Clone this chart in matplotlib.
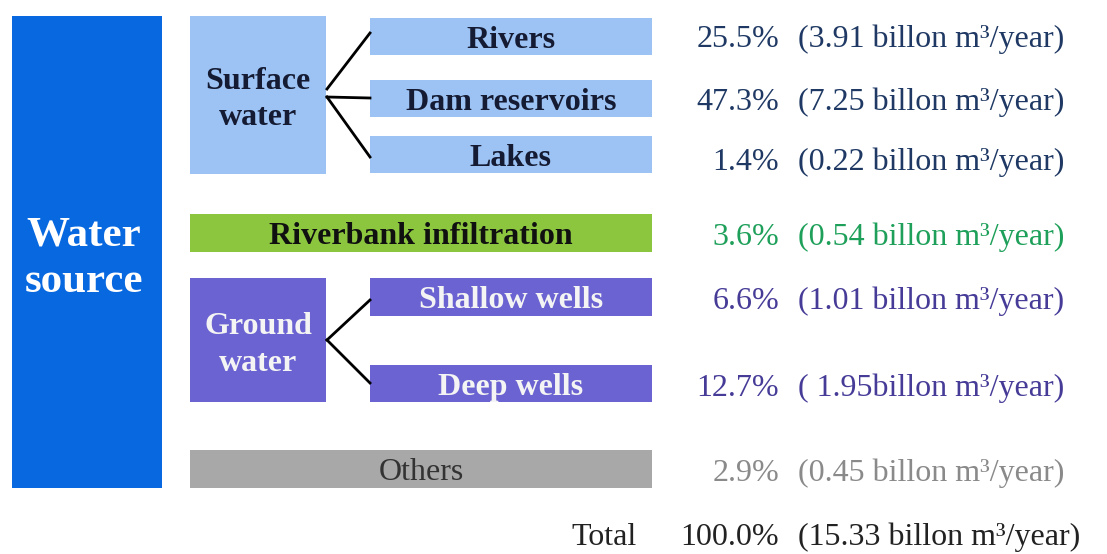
import matplotlib.pyplot as plt
from matplotlib.patches import Rectangle

# datos del diagrama
categories = ['Rivers', 'Dam reservoirs', 'Lakes', 'Riverbank infiltration',
              'Shallow wells', 'Deep wells', 'Others']
shares = [25.5, 47.3, 1.4, 3.6, 6.6, 12.7, 2.9]
volumes = [3.91, 7.25, 0.22, 0.54, 1.01, 1.95, 0.45]
total_share = 100.0
total_volume = 15.33

# formato del texto de volumen (la fila de pozos profundos viene así en el original)
vol_fmt = ['({:.2f} billon m³/year)'] * 5 + ['( {:.2f}billon m³/year)', '({:.2f} billon m³/year)']

# cajas: (x0, y0, x1, y1) en pixeles
box_pos = [(370, 18, 652, 55), (370, 80, 652, 117), (370, 136, 652, 173),
           (190, 214, 652, 252), (370, 278, 652, 316), (370, 365, 652, 402),
           (190, 450, 652, 488)]
# linea base del texto de valores
text_base = [47, 110, 170, 245, 309, 396, 481]

c_blue = '#0868E0'
c_light = '#9DC3F4'
c_green = '#8CC63F'
c_purple = '#6B63D1'
c_gray = '#A8A8A8'
box_colors = [c_light, c_light, c_light, c_green, c_purple, c_purple, c_gray]
label_colors = ['#141B33', '#141B33', '#141B33', '#101010', '#F4F4F4', '#F4F4F4', '#333333']
label_weights = ['bold'] * 6 + ['normal']
value_colors = ['#1F3964', '#1F3964', '#1F3964', '#1EA05A', '#463C98', '#463C98', '#8A8A8A']

plt.rcParams['font.family'] = ['Liberation Serif', 'DejaVu Serif']

FS = 23

fig = plt.figure(figsize=(11.07, 5.54), dpi=100)
ax = fig.add_axes([0, 0, 1, 1])
ax.set_xlim(0, 1107)
ax.set_ylim(554, 0)
ax.axis('off')


def box(x0, y0, x1, y1, color):
    ax.add_patch(Rectangle((x0, y0), x1 - x0, y1 - y0, facecolor=color, edgecolor='none'))


def txt(x, y, s, **kw):
    ax.text(x, y, s, va='baseline', **kw)


# caja principal
box(12, 16, 162, 488, c_blue)
txt(84, 245, 'Water', color='white', fontsize=31, fontweight='bold', ha='center')
txt(84, 292, 'source', color='white', fontsize=31, fontweight='bold', ha='center')

# grupos
box(190, 16, 326, 174, c_light)
txt(258, 89, 'Surface', color='#141B33', fontsize=FS, fontweight='bold', ha='center')
txt(258, 125, 'water', color='#141B33', fontsize=FS, fontweight='bold', ha='center')
box(190, 278, 326, 402, c_purple)
txt(258, 334, 'Ground', color='#F4F4F4', fontsize=FS, fontweight='bold', ha='center')
txt(258, 371, 'water', color='#F4F4F4', fontsize=FS, fontweight='bold', ha='center')

# conectores
for y_end, y_start in [(33, 89), (98, 97), (157, 97)]:
    ax.plot([327, 370], [y_start, y_end], color='black', lw=2)
for y_end in [300, 383]:
    ax.plot([327, 370], [340, y_end], color='black', lw=2)

# cajas de categorias y valores
for i, cat in enumerate(categories):
    x0, y0, x1, y1 = box_pos[i]
    box(x0, y0, x1, y1, box_colors[i])
    txt((x0 + x1) / 2, (y0 + y1) / 2 + 11.5, cat, color=label_colors[i],
        fontsize=FS, fontweight=label_weights[i], ha='center')
    txt(779, text_base[i], f'{shares[i]:.1f}%', color=value_colors[i],
        fontsize=FS, ha='right')
    txt(798, text_base[i], vol_fmt[i].format(volumes[i]), color=value_colors[i],
        fontsize=FS, ha='left')

# total
txt(637, 545, 'Total', color='#222222', fontsize=FS, ha='right')
txt(779, 545, f'{total_share:.1f}%', color='#222222', fontsize=FS, ha='right')
txt(798, 545, f'({total_volume:.2f} billon m³/year)', color='#222222',
    fontsize=FS, ha='left')

fig.savefig('out.png', dpi=100)
